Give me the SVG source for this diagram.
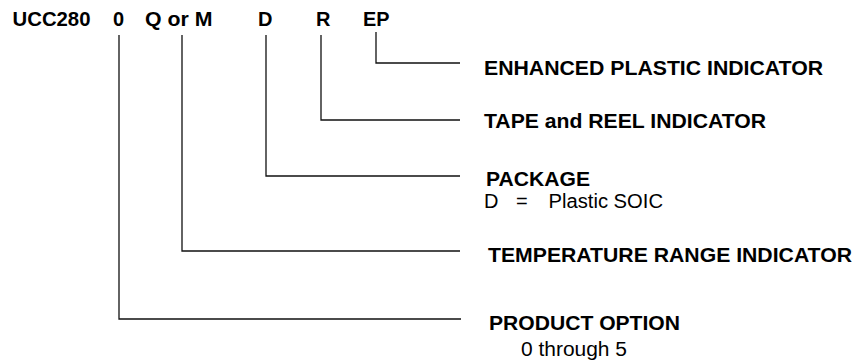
<svg xmlns="http://www.w3.org/2000/svg" width="856" height="364" viewBox="0 0 856 364">
<style>
.b{font-family:"Liberation Sans",Arial,Helvetica,sans-serif;font-weight:bold;fill:#000}
.top{font-size:20px}
.lbl{font-size:21px}
.r{font-family:"Liberation Sans",Arial,Helvetica,sans-serif;font-size:20px;fill:#000}
.ln{fill:none;stroke:#111;stroke-width:1.3}
</style>
<rect width="856" height="364" fill="#fff"/>
<g id="partnumber">
<text class="b top" x="12.5" y="26" textLength="78" lengthAdjust="spacingAndGlyphs">UCC280</text>
<text class="b top" x="113" y="26">0</text>
<text class="b top" x="145" y="26" textLength="67.5" lengthAdjust="spacingAndGlyphs">Q or M</text>
<text class="b top" x="258" y="26">D</text>
<text class="b top" x="316" y="26">R</text>
<text class="b top" x="363" y="26" textLength="26.5" lengthAdjust="spacingAndGlyphs">EP</text>
</g>
<g id="connectors">
<polyline class="ln" points="376,32 376,63 460,63"/>
<polyline class="ln" points="321,35 321,120 460,120"/>
<polyline class="ln" points="266,35 266,176 460,176"/>
<polyline class="ln" points="182,35 182,251 460,251"/>
<polyline class="ln" points="119,35 119,319 461,319"/>
</g>
<g id="ep">
<text class="b lbl" x="484" y="75" textLength="339" lengthAdjust="spacingAndGlyphs">ENHANCED PLASTIC INDICATOR</text>
</g>
<g id="tapereel">
<text class="b lbl" x="484" y="128" textLength="282" lengthAdjust="spacingAndGlyphs">TAPE and REEL INDICATOR</text>
</g>
<g id="package">
<text class="b lbl" x="486" y="186" textLength="104" lengthAdjust="spacingAndGlyphs">PACKAGE</text>
<text class="r" x="484" y="208">D</text>
<text class="r" x="516" y="208">=</text>
<text class="r" x="548.5" y="208" textLength="114.5" lengthAdjust="spacingAndGlyphs">Plastic SOIC</text>
</g>
<g id="temprange">
<text class="b lbl" x="488" y="262" textLength="364" lengthAdjust="spacingAndGlyphs">TEMPERATURE RANGE INDICATOR</text>
</g>
<g id="productoption">
<text class="b lbl" x="489" y="330" textLength="191" lengthAdjust="spacingAndGlyphs">PRODUCT OPTION</text>
<text class="r" x="521" y="356" textLength="106" lengthAdjust="spacingAndGlyphs">0 through 5</text>
</g>
</svg>
